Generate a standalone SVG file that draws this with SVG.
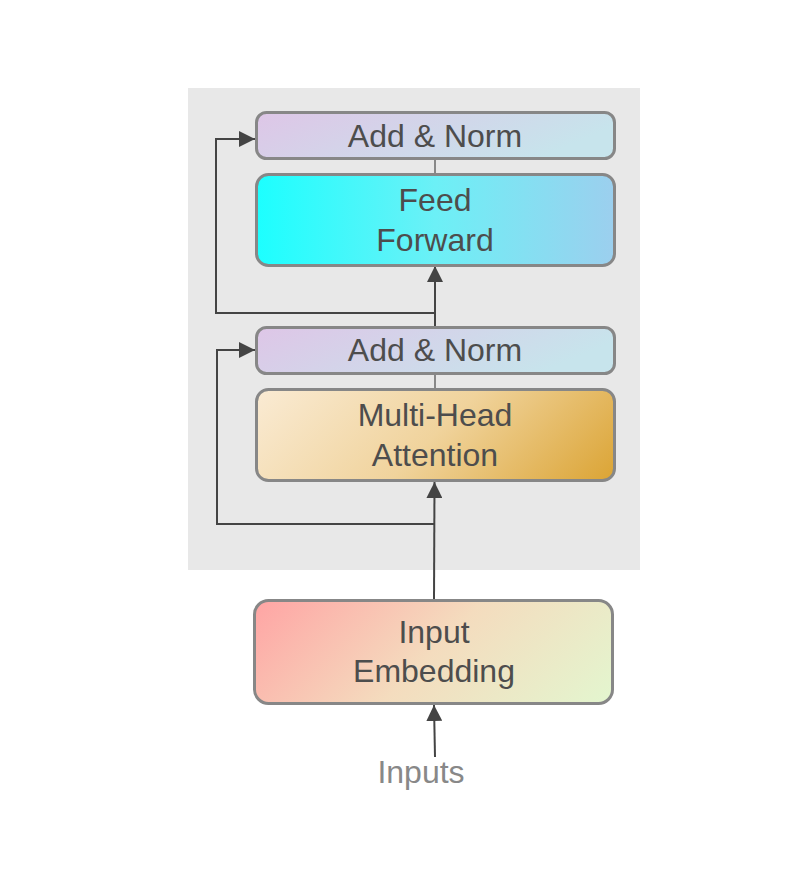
<svg xmlns="http://www.w3.org/2000/svg" width="794" height="888" viewBox="0 0 794 888">
<style>
.box{stroke:#878787;stroke-width:3}
.t{font-family:"Liberation Sans",Arial,sans-serif;font-size:32px;fill:#4d4d4d;text-anchor:middle}
.c{fill:none;stroke:#444;stroke-width:2}
.g{fill:none;stroke:#888;stroke-width:2}
</style>
<defs>
<linearGradient id="gAN" x1="0" y1="0" x2="1" y2="0.3">
<stop offset="0" stop-color="#dec6e7"/><stop offset="1" stop-color="#c7e4ec"/>
</linearGradient>
<linearGradient id="gFF" x1="0" y1="0" x2="1" y2="0">
<stop offset="0" stop-color="#1cffff"/><stop offset="0.5" stop-color="#6cf0f6"/><stop offset="1" stop-color="#9ccfee"/>
</linearGradient>
<linearGradient id="gMH" gradientUnits="userSpaceOnUse" x1="256" y1="389" x2="481" y2="614">
<stop offset="0" stop-color="#faebd4"/><stop offset="0.5" stop-color="#f0d39c"/><stop offset="1" stop-color="#dba434"/>
</linearGradient>
<linearGradient id="gIE" gradientUnits="userSpaceOnUse" x1="254" y1="600" x2="485" y2="831">
<stop offset="0" stop-color="#ffa4a4"/><stop offset="0.5" stop-color="#f4dcbe"/><stop offset="1" stop-color="#e3f6cf"/>
</linearGradient>
<marker id="a" viewBox="0 0 16 16" refX="16" refY="8" markerWidth="16" markerHeight="16" markerUnits="userSpaceOnUse" orient="auto">
<path d="M0,0 L16,8 L0,16 Z" fill="#444"/>
</marker>
</defs>
<rect x="188" y="88" width="452" height="482" fill="#e8e8e8"/>
<g id="connectors">
<line class="g" x1="435" y1="159" x2="435" y2="174"/>
<line class="g" x1="435" y1="374" x2="435" y2="389"/>
<path class="c" d="M434,600 L434.5,482" marker-end="url(#a)"/>
<path class="c" d="M434,524 L217,524 L217,350 L255,350" marker-end="url(#a)"/>
<path class="c" d="M435,326 L435,266" marker-end="url(#a)"/>
<path class="c" d="M435,313 L216,313 L216,139 L255,139" marker-end="url(#a)"/>
<path class="c" d="M435,757 L434,705" marker-end="url(#a)"/>
</g>
<g id="addnorm2">
<rect class="box" x="256.5" y="112.5" width="358" height="46" rx="10" fill="url(#gAN)"/>
<text class="t" x="435" y="147">Add &amp; Norm</text>
</g>
<g id="feedforward">
<rect class="box" x="256.5" y="174.5" width="358" height="91" rx="12" fill="url(#gFF)"/>
<text class="t" x="435" y="211">Feed</text>
<text class="t" x="435" y="251">Forward</text>
</g>
<g id="addnorm1">
<rect class="box" x="256.5" y="327.5" width="358" height="46" rx="10" fill="url(#gAN)"/>
<text class="t" x="435" y="361">Add &amp; Norm</text>
</g>
<g id="multihead">
<rect class="box" x="256.5" y="389.5" width="358" height="91" rx="12" fill="url(#gMH)"/>
<text class="t" x="435" y="426">Multi-Head</text>
<text class="t" x="435" y="466">Attention</text>
</g>
<g id="embedding">
<rect class="box" x="254.5" y="600.5" width="358" height="103" rx="14" fill="url(#gIE)"/>
<text class="t" x="434" y="643">Input</text>
<text class="t" x="434" y="682">Embedding</text>
</g>
<g id="inputs">
<text class="t" x="421" y="783" style="fill:#888">Inputs</text>
</g>
</svg>
